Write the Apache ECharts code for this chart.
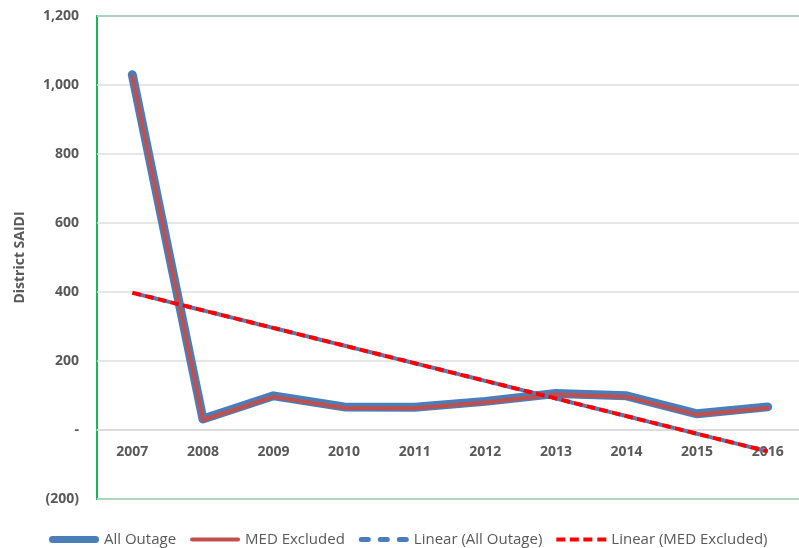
<!DOCTYPE html>
<html>
<head>
<meta charset="utf-8">
<script src="https://cdn.jsdelivr.net/npm/echarts@6/dist/echarts.min.js"></script>
<style>
html,body{margin:0;padding:0;background:#fff;}
#chart{width:799px;height:548px;}
</style>
</head>
<body>
<div id="chart"></div>
<script>
// data
var years = ['2007','2008','2009','2010','2011','2012','2013','2014','2015','2016'];
var allOutage = [1030, 32, 99, 67, 66, 83, 106, 99, 47, 67];
var medExcluded = [1025, 29, 96, 64, 63, 80, 103, 96, 44, 64];
// trend lines: value at first and last year
var trendAll = [398, -62];
var trendMed = [398, -62];

var chart = echarts.init(document.getElementById('chart'));

var grey = '#595959';
var font = '"Open Sans", sans-serif';

function trendData(ends){
    return [[years[0], ends[0]], [years[years.length - 1], ends[1]]];
}

function fmt(v){
    if (v === 0) return '-';
    var s = Math.abs(v).toString().replace(/\B(?=(\d{3})+(?!\d))/g, ',');
    return v < 0 ? '(' + s + ')' : s;
}

// legend icons (all 50 wide)
var iconThick = 'path://M3.5,0h43a3.5,3.5 0 0 1 0,7h-43a3.5,3.5 0 0 1 0,-7z';
var iconThin = 'path://M2,0h46a2,2 0 0 1 0,4h-46a2,2 0 0 1 0,-4z';
var iconDashBlue = 'path://M2.5,0h7a2.5,2.5 0 0 1 0,5h-7a2.5,2.5 0 0 1 0,-5z' +
    'M21.5,0h7a2.5,2.5 0 0 1 0,5h-7a2.5,2.5 0 0 1 0,-5z' +
    'M40.5,0h7a2.5,2.5 0 0 1 0,5h-7a2.5,2.5 0 0 1 0,-5z';
var iconDashRed = 'path://M0,0h9v4h-9z M13.5,0h9v4h-9z M27,0h9v4h-9z M41,0h9v4h-9z';

var option = {
    animation: false,
    backgroundColor: '#fff',
    grid: {
        left: 97, top: 16, width: 706, height: 483,
        outerBoundsMode: 'none',
        show: true, borderColor: '#1fb35a', borderWidth: 2
    },
    legend: {
        left: 44, top: 527,
        itemWidth: 50, itemHeight: 12, itemGap: 14,
        textStyle: {color: grey, fontSize: 15, fontFamily: font},
        data: [
            {name: 'All Outage', icon: iconThick},
            {name: 'MED Excluded', icon: iconThin},
            {name: 'Linear (All Outage)', icon: iconDashBlue},
            {name: 'Linear (MED Excluded)', icon: iconDashRed}
        ]
    },
    xAxis: {
        type: 'category',
        data: years,
        offset: -69,
        axisLine: {onZero: false, lineStyle: {color: '#d9d9d9', width: 1.5}},
        axisTick: {show: false},
        axisLabel: {color: grey, fontSize: 14, fontWeight: 'bold', fontFamily: font, margin: 15},
        splitLine: {show: false}
    },
    yAxis: {
        type: 'value',
        min: -200, max: 1200, interval: 200,
        name: 'District SAIDI',
        nameLocation: 'middle',
        nameGap: 70,
        nameTextStyle: {color: grey, fontSize: 14, fontWeight: 'bold', fontFamily: font},
        axisLine: {show: false},
        axisTick: {show: false},
        axisLabel: {color: grey, fontSize: 14, fontWeight: 'bold', fontFamily: font, margin: 18, formatter: fmt},
        splitLine: {lineStyle: {color: '#dedede', width: 1.5}}
    },
    series: [
        {
            name: 'All Outage', type: 'line', data: allOutage,
            symbol: 'none', color: '#4a7ebb',
            lineStyle: {width: 9, color: '#4a7ebb', cap: 'round', join: 'round'}
        },
        {
            name: 'MED Excluded', type: 'line', data: medExcluded,
            symbol: 'none', color: '#c0504d',
            lineStyle: {width: 4, color: '#c0504d', cap: 'round', join: 'round'}
        },
        {
            name: 'Linear (All Outage)', type: 'line', data: trendData(trendAll),
            symbol: 'none', color: '#4a7ebb',
            lineStyle: {width: 4, color: '#4a7ebb', type: [9, 4], dashOffset: 9, cap: 'butt'}
        },
        {
            name: 'Linear (MED Excluded)', type: 'line', data: trendData(trendMed),
            symbol: 'none', color: '#ff0000',
            lineStyle: {width: 4, color: '#ff0000', type: [9, 4], cap: 'butt'}
        }
    ]
};

chart.setOption(option);
</script>
</body>
</html>
